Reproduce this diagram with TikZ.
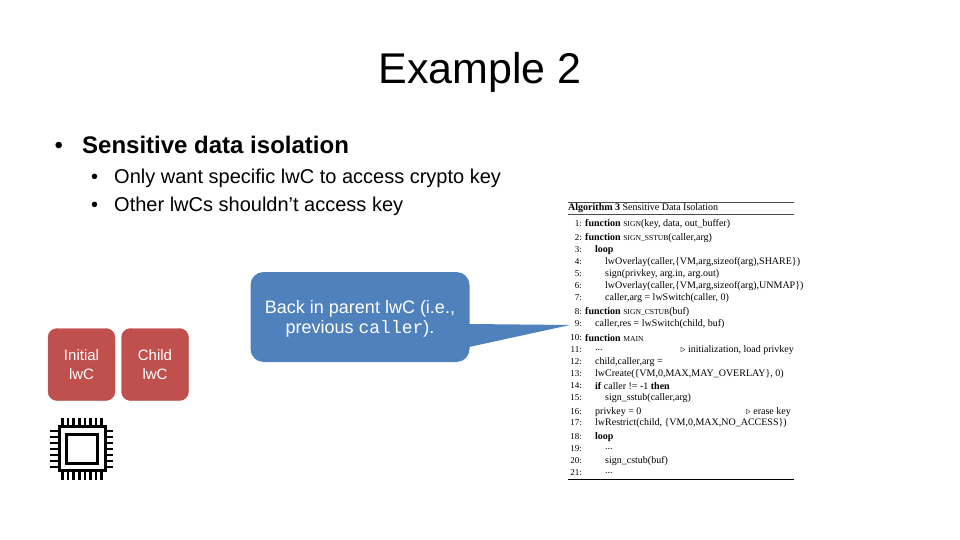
\documentclass[tikz,border=0pt]{standalone}
\usepackage{fontspec}
\setmainfont{Liberation Sans}
\setmonofont{Liberation Mono}
\newfontfamily\algfont{Liberation Serif}
\definecolor{lwcred}{RGB}{192,80,77}
\definecolor{calloutblue}{RGB}{79,129,189}
\newcommand{\algsc}[1]{{\fontsize{7.6}{11}\selectfont #1}}
\tikzset{
  x=1pt, y=-1pt,
  lwcbox/.style={draw=lwcred, fill=lwcred, rounded corners=9pt, minimum width=67pt, minimum height=72pt, inner sep=0pt,
    text=white, align=center, font=\fontsize{15}{19.5}\selectfont},
  bodytext/.style={anchor=base west, inner sep=0pt, font=\fontsize{20}{24}\selectfont},
  headtext/.style={bodytext, font=\fontsize{24}{28}\selectfont},
  algline/.style={anchor=west, inner sep=0pt, font=\algfont\fontsize{10}{11}\selectfont},
  algnum/.style={anchor=east, inner sep=0pt, font=\algfont\fontsize{9}{11}\selectfont},
  algrule/.style={line width=.8pt, black!70},
  chippin/.style={line width=2.6pt}
}
\begin{document}
\begin{tikzpicture}
\useasboundingbox (0,0) rectangle (960,540);
\node[font=\fontsize{43}{50}\selectfont] (title) at (480,72) {Example 2};
\node[headtext] (bul1) at (54.5,154) {•};
\node[headtext, font=\bfseries\fontsize{24}{28}\selectfont] (head) at (82,154) {Sensitive data isolation};
\node[bodytext] (bul2) at (91,183) {•};
\node[bodytext] (item1) at (114,183) {Only want specific lwC to access crypto key};
\node[bodytext] (bul3) at (91,211) {•};
\node[bodytext] (item2) at (114,211) {Other lwCs shouldn’t access key};

\node[lwcbox] (initial) at (81.5,364.5) {Initial\\lwC};
\node[lwcbox] (child) at (155,364.5) {Child\\lwC};

% callout
\coordinate (tip) at (570,325);
\fill[calloutblue] (469,324) -- (tip) -- (469,347) -- cycle;
\node[fill=calloutblue, rounded corners=13pt, minimum width=219pt, minimum height=90pt, inner sep=0pt,
  text=white, align=center, font=\fontsize{18}{20}\selectfont] (callout) at (360,317)
  {\rule{0pt}{17.5pt}Back in parent lwC (i.e.,\\previous {\ttfamily caller}).};

% chip
\node[draw, line width=3.4pt, minimum width=46pt, minimum height=44pt, inner sep=0pt] (chip) at (82.5,448.5) {};
\node[draw, line width=3.2pt, minimum width=31pt, minimum height=29pt, inner sep=0pt] (core) at (82,449) {};
\foreach \i in {0,...,7} {
  \draw[chippin] (62.5+\i*5.6,418) -- (62.5+\i*5.6,427);
  \draw[chippin] (62.5+\i*5.6,470) -- (62.5+\i*5.6,480);
}
\foreach \i in {0,...,6} {
  \draw[chippin] (50,431+\i*6) -- (60,431+\i*6);
  \draw[chippin] (105,431+\i*6) -- (113,431+\i*6);
}

% algorithm
\draw[algrule] (568,202) -- (794,202);
\draw[algrule] (568,214) -- (794,214);
\draw[algrule, black] (568,479) -- (794,479);
\node[algline] (algtitle) at (568,208.5) {\textbf{Algorithm 3} Sensitive Data Isolation};
\foreach \n/\xpos/\ypos/\txt in {
  1/585/224/{\textbf{function} \algsc{SIGN}(key, data, out\_buffer)},
  2/585/238/{\textbf{function} \algsc{SIGN\_SSTUB}(caller,arg)},
  3/595/250/{\textbf{loop}},
  4/605/262/{lwOverlay(caller,\{VM,arg,sizeof(arg),SHARE\})},
  5/605/274/{sign(privkey, arg.in, arg.out)},
  6/605/286/{lwOverlay(caller,\{VM,arg,sizeof(arg),UNMAP\})},
  7/605/298/{caller,arg = lwSwitch(caller, 0)},
  8/585/312/{\textbf{function} \algsc{SIGN\_CSTUB}(buf)},
  9/595/324/{caller,res = lwSwitch(child, buf)},
  10/585/338/{\textbf{function} \algsc{MAIN}},
  11/595/350/{...},
  12/595/362/{child,caller,arg =},
  13/595/374/{lwCreate(\{VM,0,MAX,MAY\_OVERLAY\}, 0)},
  14/595/386/{\textbf{if} caller != -1 \textbf{then}},
  15/605/398/{sign\_sstub(caller,arg)},
  16/595/412/{privkey = 0},
  17/595/423/{lwRestrict(child, \{VM,0,MAX,NO\_ACCESS\})},
  18/595/437/{\textbf{loop}},
  19/605/449/{...},
  20/605/461/{sign\_cstub(buf)},
  21/605/473/{...}} {
  \node[algnum] (num\n) at (582,\ypos) {\n:};
  \node[algline] (alg\n) at (\xpos,\ypos) {\txt};
}
\node[algline, anchor=east] (cmt11) at (794,350) {$\triangleright$ initialization, load privkey};
\node[algline, anchor=east] (cmt16) at (791,412) {$\triangleright$ erase key};
\end{tikzpicture}
\end{document}
